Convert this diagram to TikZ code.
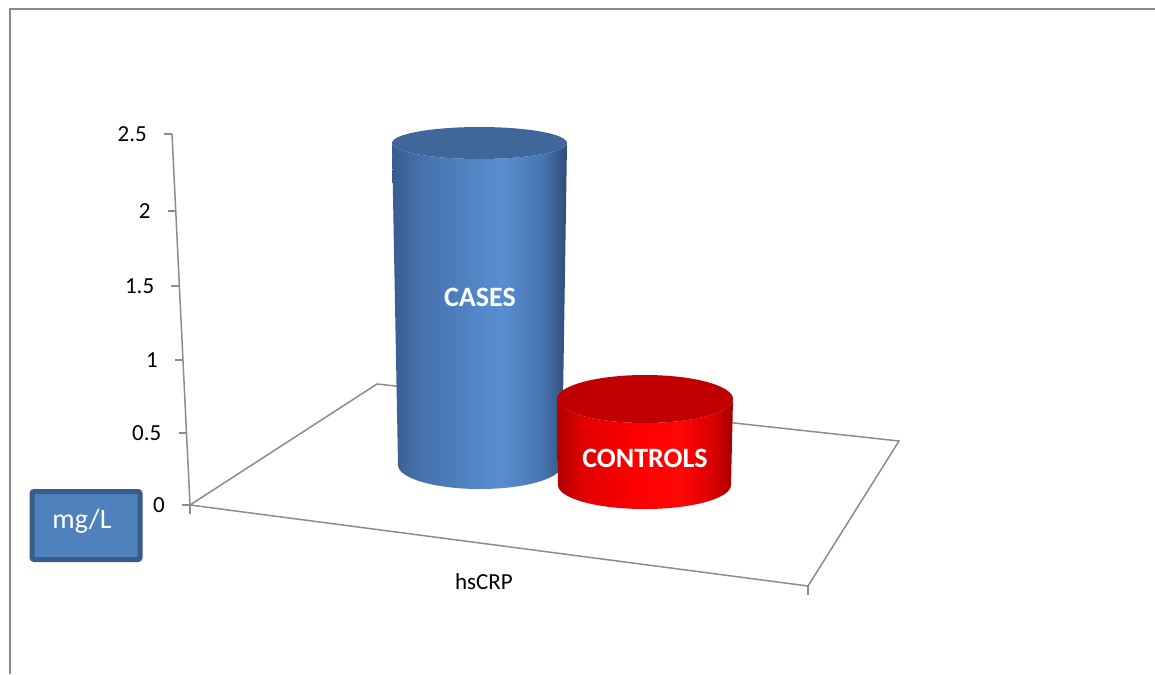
\documentclass[tikz,border=0pt]{standalone}
\usepackage{fontspec}
\setmainfont{Carlito}
\definecolor{axisgray}{HTML}{8C8C8C}
\definecolor{framegray}{HTML}{8A8A8A}
\definecolor{bluecap}{HTML}{3F6799}
\definecolor{redcap}{HTML}{C00000}
\definecolor{boxfill}{HTML}{4F81BD}
\definecolor{boxline}{HTML}{385D8A}
\definecolor{bA}{RGB}{56,92,142}
\definecolor{bB}{RGB}{68,112,170}
\definecolor{bC}{RGB}{83,135,201}
\definecolor{bD}{RGB}{88,142,208}
\definecolor{bE}{RGB}{72,117,178}
\definecolor{bF}{RGB}{46,77,120}
\definecolor{rA}{RGB}{176,0,0}
\definecolor{rB}{RGB}{224,0,0}
\definecolor{rC}{RGB}{255,0,0}
\definecolor{rD}{RGB}{255,6,6}
\definecolor{rE}{RGB}{214,0,0}
\definecolor{rF}{RGB}{160,0,0}
% side shadings of the two cylinders (path spans 25bp..75bp)
\pgfdeclarehorizontalshading{bluebody}{100bp}{%
  color(0bp)=(bA); color(25bp)=(bA); color(32bp)=(bB); color(50bp)=(bC);
  color(56bp)=(bD); color(68bp)=(bE); color(75bp)=(bF); color(100bp)=(bF)}
\pgfdeclarehorizontalshading{redbody}{100bp}{%
  color(0bp)=(rA); color(25bp)=(rA); color(32bp)=(rB); color(48bp)=(rC);
  color(60bp)=(rD); color(70bp)=(rE); color(75bp)=(rF); color(100bp)=(rF)}
\tikzset{
  axisline/.style={draw=axisgray, line width=1.5pt},
  framestroke/.style={draw=framegray, line width=2pt},
  ticklabel/.style={font=\fontsize{23}{27}\selectfont, text=black, inner sep=0pt, anchor=east},
  barlabel/.style={font=\fontsize{28}{33}\selectfont\bfseries, text=white, inner sep=0pt},
  catlabel/.style={font=\fontsize{23}{28}\selectfont, text=black, inner sep=0pt},
  unitbox/.style={draw=boxline, line width=5pt, fill=boxfill, rounded corners=2pt},
}
\begin{document}
\begin{tikzpicture}[x=1pt,y=-1pt]
\useasboundingbox (0,0) rectangle (1155,674);
\fill[white] (0,0) rectangle (1155,674);

% chart area frame
\coordinate (frameBL) at (9.5,674);
\coordinate (frameTL) at (9.5,9.5);
\coordinate (frameTR) at (1155,9.5);
\draw[framestroke] (frameBL) -- (frameTL) -- (frameTR);

% floor of the 3-D plot
\coordinate (O) at (190,505);
\coordinate (BL) at (377,384);
\coordinate (BR) at (899,441);
\coordinate (FR) at (808,586);
\coordinate (Ytop) at (172,134);
\draw[axisline] (O) -- (BL) -- (BR) -- (FR) -- cycle;

% value axis with ticks
\draw[axisline] (Ytop) -- (O);
\foreach \v/\y [count=\i] in {2.5/134, 2/211, 1.5/286, 1/360, 0.5/433, 0/505} {
  \pgfmathsetmacro\ax{172+18*(\y-134)/371}
  \coordinate (tk\i) at (\ax,\y);
  \draw[axisline] (tk\i) -- ++(-8,0);
  \node[ticklabel] (val\i) at (\ax-25,\y) {\v};
}

% category axis ticks
\coordinate (catA) at (190,514);
\coordinate (catB) at (808,595);
\draw[axisline] (O) -- (catA);
\draw[axisline] (FR) -- (catB);
\node[catlabel] (cat) at (484,582) {hsCRP};

% CASES cylinder
\path[shading=bluebody] (392,143) -- (398,465)
  arc[start angle=180, end angle=0, x radius=82, y radius=24]
  -- (567,143)
  arc[start angle=0, end angle=180, x radius=87.5, y radius=16] -- cycle;
\fill[bluecap] (479.5,143) ellipse [x radius=87.5, y radius=16];
\node[barlabel] (cases) at (480,297) {CASES};

% CONTROLS cylinder
\path[shading=redbody] (557,399) -- (558,485)
  arc[start angle=180, end angle=0, x radius=86.5, y radius=24]
  -- (733,399)
  arc[start angle=0, end angle=180, x radius=88, y radius=24] -- cycle;
\fill[redcap] (645,399) ellipse [x radius=88, y radius=24];
\node[barlabel] (controls) at (645,458) {CONTROLS};

% unit box
\node[unitbox, minimum width=108pt, minimum height=68pt, inner sep=0pt] (unit) at (86,525.5) {};
\node[font=\fontsize{28}{32}\selectfont, text=white, inner sep=0pt] (unittext) at (82,521) {mg/L};
\end{tikzpicture}
\end{document}
